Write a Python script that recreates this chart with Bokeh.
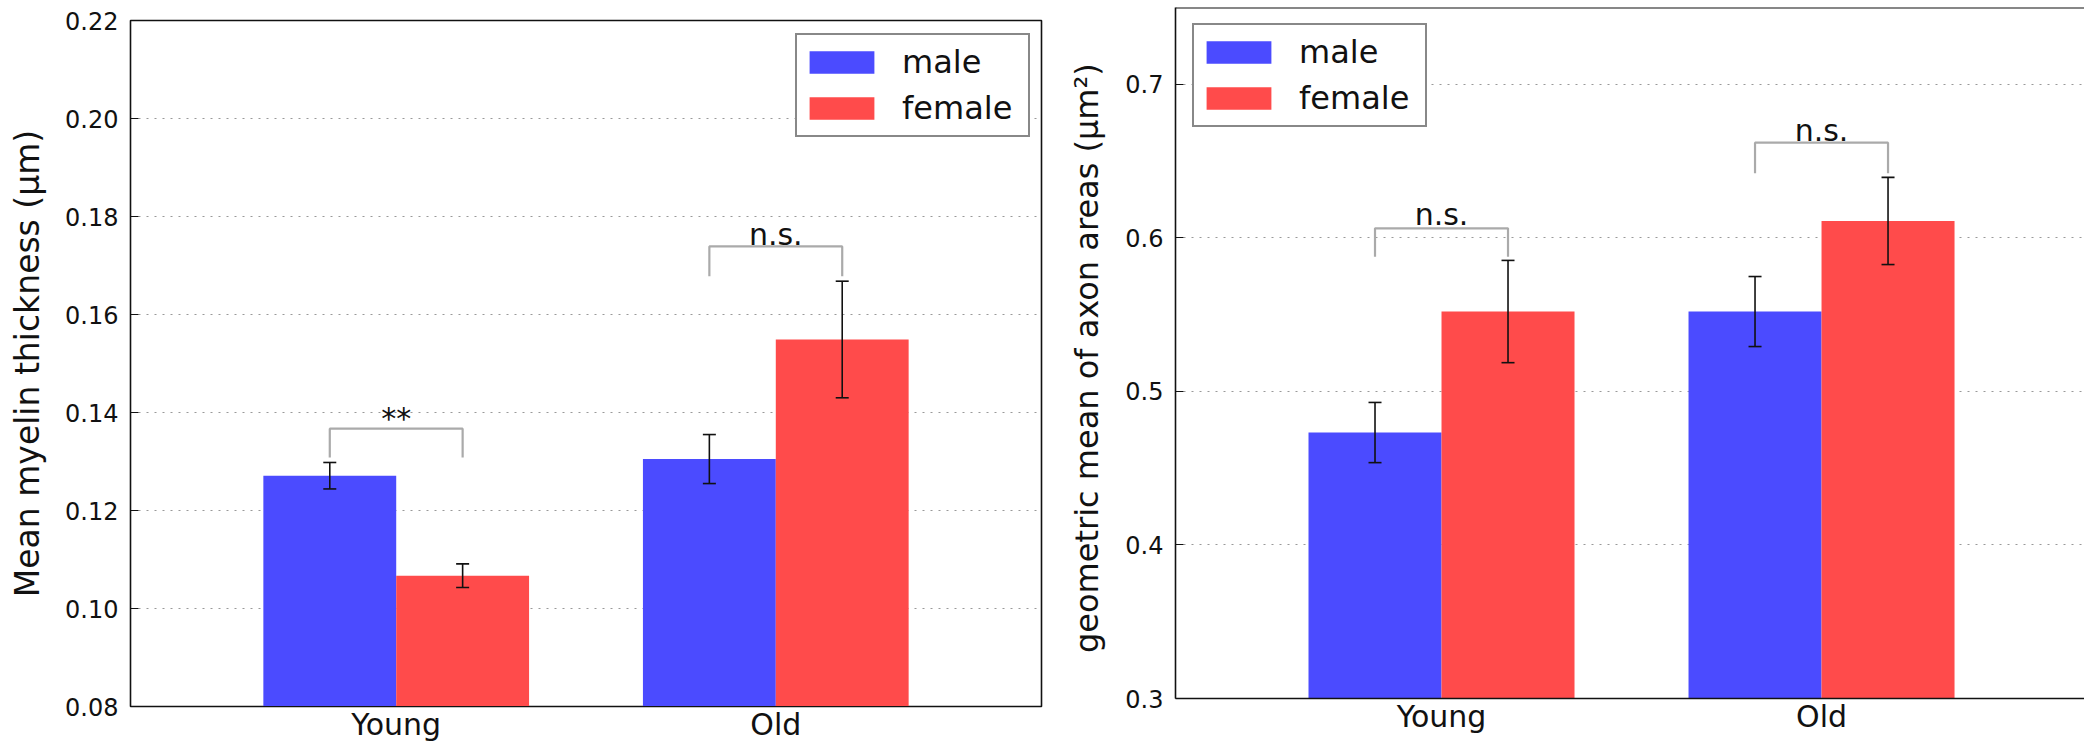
from bokeh.plotting import figure
from bokeh.layouts import row, column
from bokeh.models import (ColumnDataSource, Whisker, TeeHead, Legend, LegendItem,
                          FixedTicker, PrintfTickFormatter, Span)
from bokeh.core.properties import value
from bokeh.embed import file_html
from bokeh.resources import INLINE

# ---------------- data ----------------
groups = ["Young", "Old"]

myelin_male = [0.1271, 0.1305]
myelin_male_err = [0.0027, 0.0050]
myelin_female = [0.1067, 0.1549]
myelin_female_err = [0.0024, 0.0119]
myelin_sig = ["**", "n.s."]
myelin_bracket_top = [0.1367, 0.1739]
myelin_bracket_foot = [0.1308, 0.1678]
myelin_sig_y = [0.1388, 0.1763]

axon_male = [0.4732, 0.5520]
axon_male_err = [0.0196, 0.0228]
axon_female = [0.5520, 0.6110]
axon_female_err = [0.0333, 0.0284]
axon_sig = ["n.s.", "n.s."]
axon_bracket_top = [0.6062, 0.6620]
axon_bracket_foot = [0.5877, 0.6420]
axon_sig_y = [0.6153, 0.6700]

BLUE = "#4B4BFF"
RED = "#FF4B4B"
FONT = "DejaVu Sans"
W = 0.35


def make_panel(male, male_err, female, female_err, sig, btop, bfoot, sig_y,
               y_start, y_end, y_ticks, y_fmt, ylabel, ylabel_size, ylabel_standoff, x_end,
               frame_w, frame_h, b_left, b_right, b_top, legend_loc, right_open):
    p = figure(frame_width=frame_w, frame_height=frame_h,
               x_range=(-0.35, x_end), y_range=(y_start, y_end),
               output_backend="svg", toolbar_location=None,
               min_border_left=b_left, min_border_right=b_right,
               min_border_top=b_top, min_border_bottom=30)
    idx = list(range(len(groups)))
    xm = [i + W / 2 for i in idx]
    xf = [i + 1.5 * W for i in idx]
    src_m = ColumnDataSource(dict(x=xm, top=male, lo=[v - e for v, e in zip(male, male_err)],
                                  hi=[v + e for v, e in zip(male, male_err)]))
    src_f = ColumnDataSource(dict(x=xf, top=female, lo=[v - e for v, e in zip(female, female_err)],
                                  hi=[v + e for v, e in zip(female, female_err)]))
    r_m = p.vbar(x="x", top="top", bottom=y_start, width=W, source=src_m,
                 fill_color=BLUE, line_color=None)
    r_f = p.vbar(x="x", top="top", bottom=y_start, width=W, source=src_f,
                 fill_color=RED, line_color=None)
    for s in (src_m, src_f):
        wk = Whisker(base="x", lower="lo", upper="hi", source=s, level="overlay",
                     line_color="#111111", line_width=1.6,
                     upper_head=TeeHead(size=13, line_color="#111111", line_width=1.6),
                     lower_head=TeeHead(size=13, line_color="#111111", line_width=1.6))
        p.add_layout(wk)
    # significance brackets
    xs, ys = [], []
    for i in idx:
        xs.append([xm[i], xm[i], xf[i], xf[i]])
        ys.append([bfoot[i], btop[i], btop[i], bfoot[i]])
    p.multi_line(xs=xs, ys=ys, line_color="#AAAAAA", line_width=2.2)
    p.text(x=[i + W for i in idx], y=sig_y, text=sig, text_align="center",
           text_baseline="alphabetic", text_font=value(FONT), text_font_size="30px",
           text_color="#111111")

    # axes
    p.xaxis.ticker = FixedTicker(ticks=[i + W for i in idx])
    p.xaxis.major_label_overrides = {i + W: g for i, g in zip(idx, groups)}
    p.xaxis.major_tick_in = 0
    p.xaxis.major_tick_out = 0
    p.xaxis.minor_tick_line_color = None
    p.xaxis.major_label_text_font = FONT
    p.xaxis.major_label_text_font_size = "30px"
    p.xaxis.major_label_text_color = "#111111"
    p.xaxis.major_label_standoff = 0

    p.yaxis.ticker = FixedTicker(ticks=y_ticks)
    p.yaxis.formatter = PrintfTickFormatter(format=y_fmt)
    p.yaxis.major_tick_in = 8
    p.yaxis.major_tick_out = 0
    p.yaxis.major_tick_line_color = "#111111"
    p.yaxis.minor_tick_line_color = None
    p.yaxis.major_label_text_font = FONT
    p.yaxis.major_label_text_font_size = "24px"
    p.yaxis.major_label_text_color = "#111111"
    p.yaxis.major_label_standoff = 12
    p.yaxis.axis_label = ylabel
    p.yaxis.axis_label_text_font = FONT
    p.yaxis.axis_label_text_font_size = ylabel_size
    p.yaxis.axis_label_text_font_style = "normal"
    p.yaxis.axis_label_text_color = "#111111"
    p.yaxis.axis_label_standoff = ylabel_standoff

    p.xgrid.grid_line_color = None
    p.ygrid.ticker = FixedTicker(ticks=y_ticks)
    p.ygrid.grid_line_color = "#999999"
    p.ygrid.grid_line_dash = "2 6"
    p.ygrid.grid_line_width = 1

    p.background_fill_color = "white"
    p.border_fill_color = "white"
    if right_open:
        p.outline_line_color = None
        p.xaxis.axis_line_color = "#111111"
        p.xaxis.axis_line_width = 1.6
        p.yaxis.axis_line_color = "#111111"
        p.yaxis.axis_line_width = 1.6
        p.add_layout(Span(location=y_end, dimension="width", line_color="#111111", line_width=2))
    else:
        p.outline_line_color = "#111111"
        p.outline_line_width = 1.6
        p.xaxis.axis_line_color = "#111111"
        p.yaxis.axis_line_color = "#111111"

    legend = Legend(items=[LegendItem(label="male", renderers=[r_m]),
                           LegendItem(label="female", renderers=[r_f])],
                    location=legend_loc, margin=0, padding=4, spacing=0,
                    glyph_width=81, glyph_height=28, label_height=46, label_width=122,
                    label_standoff=20, border_line_color="#111111", border_line_width=2,
                    background_fill_color="white", background_fill_alpha=1,
                    label_text_font=FONT, label_text_font_size="32px",
                    label_text_color="#111111")
    p.add_layout(legend)
    return p


p1 = make_panel(myelin_male, myelin_male_err, myelin_female, myelin_female_err,
                myelin_sig, myelin_bracket_top, myelin_bracket_foot, myelin_sig_y,
                0.08, 0.22, [0.08, 0.10, 0.12, 0.14, 0.16, 0.18, 0.20, 0.22], "%.2f",
                "Mean myelin thickness (μm)", "33px", 15, 2.05,
                911, 686, 130, 9, 20, (665, 569), False)

p2 = make_panel(axon_male, axon_male_err, axon_female, axon_female_err,
                axon_sig, axon_bracket_top, axon_bracket_foot, axon_sig_y,
                0.3, 0.75, [0.3, 0.4, 0.5, 0.6, 0.7], "%.1f",
                "geometric mean of axon areas  (μm²)", "32px", 16, 2.042,
                909, 691, 125, 0, 7, (17, 571), True)

layout = row(column(p1), column(p2), spacing=0)
open("out.html", "w").write(file_html(layout, INLINE))
